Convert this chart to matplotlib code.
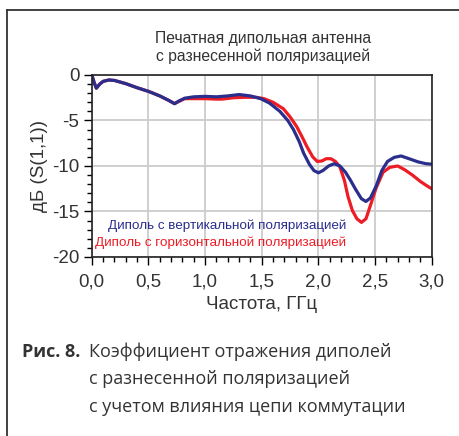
import numpy as np
import matplotlib.pyplot as plt
from matplotlib.lines import Line2D
from matplotlib.ticker import MultipleLocator, FuncFormatter

# частота, ГГц
f_v = [0.00, 0.02, 0.04, 0.07, 0.10, 0.15, 0.20, 0.30, 0.40, 0.50, 0.60, 0.68, 0.73,
       0.77, 0.82, 0.90, 1.00, 1.10, 1.20, 1.30, 1.40, 1.49, 1.57, 1.66, 1.73, 1.78,
       1.83, 1.87, 1.92, 1.96, 2.00, 2.04, 2.09, 2.14, 2.19, 2.24, 2.28, 2.33, 2.38,
       2.42, 2.46, 2.51, 2.56, 2.61, 2.67, 2.73, 2.80, 2.88, 2.95, 3.00]
# вертикальная поляризация, дБ
s_v = [0.0, -0.8, -1.45, -1.0, -0.7, -0.55, -0.6, -0.95, -1.4, -1.8, -2.3, -2.8, -3.15,
       -2.85, -2.55, -2.4, -2.35, -2.4, -2.3, -2.15, -2.3, -2.6, -3.1, -4.0, -5.0, -6.0,
       -7.3, -8.6, -9.8, -10.5, -10.75, -10.5, -10.0, -9.75, -10.0, -10.7, -11.5, -12.6, -13.6,
       -13.9, -13.5, -12.2, -10.5, -9.5, -9.05, -8.9, -9.2, -9.55, -9.75, -9.8]

f_h = [0.00, 0.02, 0.04, 0.07, 0.10, 0.15, 0.20, 0.30, 0.40, 0.50, 0.60, 0.68, 0.73,
       0.77, 0.82, 0.90, 1.00, 1.10, 1.15, 1.25, 1.35, 1.45, 1.52, 1.60, 1.69, 1.75,
       1.81, 1.86, 1.90, 1.95, 1.99, 2.03, 2.07, 2.11, 2.15, 2.19, 2.23, 2.26, 2.30,
       2.34, 2.38, 2.42, 2.46, 2.51, 2.57, 2.63, 2.70, 2.76, 2.83, 2.90, 2.96, 3.00]
# горизонтальная поляризация, дБ
s_h = [0.0, -0.8, -1.45, -1.0, -0.7, -0.55, -0.6, -0.95, -1.4, -1.8, -2.3, -2.8, -3.15,
       -2.9, -2.6, -2.6, -2.6, -2.65, -2.65, -2.5, -2.45, -2.45, -2.6, -3.0, -3.7, -4.6,
       -5.7, -6.9, -7.9, -9.0, -9.5, -9.45, -9.2, -9.2, -9.5, -10.1, -11.6, -13.3, -14.9,
       -15.8, -16.2, -15.8, -14.3, -12.4, -10.7, -10.15, -10.0, -10.4, -11.0, -11.7, -12.2, -12.5]

x_ticks = [0.0, 0.5, 1.0, 1.5, 2.0, 2.5, 3.0]
y_ticks = [0, -5, -10, -15, -20]

blue = '#2a2e8c'
red = '#ee1c25'
txt = '#333333'

plt.rcParams['font.family'] = ['Liberation Sans', 'DejaVu Sans']

fig = plt.figure(figsize=(4.59, 4.36), dpi=100)
ax = fig.add_axes([0.2, 0.4106, 0.7405, 0.4174])

ax.plot(f_h, s_h, color=red, lw=2.3, solid_capstyle='round', solid_joinstyle='round')
ax.plot(f_v, s_v, color=blue, lw=2.3, solid_capstyle='round', solid_joinstyle='round')

ax.set_xlim(0, 3.0)
ax.set_ylim(-20, 0)
ax.set_xticks(x_ticks)
ax.set_yticks(y_ticks)
ax.xaxis.set_minor_locator(MultipleLocator(0.1))
ax.yaxis.set_minor_locator(MultipleLocator(1))
ax.xaxis.set_major_formatter(FuncFormatter(lambda v, p: f'{v:.1f}'.replace('.', ',')))
ax.yaxis.set_major_formatter(FuncFormatter(lambda v, p: f'{v:.0f}'))
ax.grid(True, which='major', color='#cccccc', lw=1.3)
ax.set_axisbelow(True)
ax.tick_params(which='major', direction='out', length=6, width=1, labelsize=13.5,
               labelcolor=txt)
ax.tick_params(axis='x', which='major', pad=6)
ax.tick_params(axis='y', which='major', pad=3)
ax.tick_params(which='minor', direction='out', length=3.5, width=1)
for sp in ax.spines.values():
    sp.set_linewidth(1.2)
    sp.set_color('#222222')

ax.set_xlabel('Частота, ГГц', fontsize=13.5, color=txt, labelpad=4)
ax.set_ylabel('дБ (S(1,1))', fontsize=13.5, color=txt, labelpad=3)

ax.text(2.245, -16.6, 'Диполь с вертикальной поляризацией', color=blue,
        fontsize=9.7, ha='right', va='center')
ax.text(2.245, -18.45, 'Диполь с горизонтальной поляризацией', color=red,
        fontsize=9.7, ha='right', va='center')

fig.text(0.573, 0.891, 'Печатная дипольная антенна\nс разнесенной поляризацией',
         ha='center', va='center', fontsize=11.3, color=txt, linespacing=1.2)

# рамка
fig.add_artist(Line2D([0.016, 0.016], [0.0, 0.977], color='#333333', lw=1.3))
fig.add_artist(Line2D([0.016, 1.0], [0.977, 0.977], color='#333333', lw=1.3))

# подпись
cap = ['Open Sans', 'DejaVu Sans']
fig.text(0.048, 1 - 352 / 436, 'Рис. 8.', fontsize=13, fontweight='bold',
         family=cap, color=txt, va='center')
fig.text(0.194, 1 - 352 / 436, 'Коэффициент отражения диполей', fontsize=13,
         family=cap, color=txt, va='center')
fig.text(0.194, 1 - 379 / 436, 'с разнесенной поляризацией', fontsize=13,
         family=cap, color=txt, va='center')
fig.text(0.194, 1 - 407 / 436, 'с учетом влияния цепи коммутации', fontsize=13,
         family=cap, color=txt, va='center')

fig.savefig('out.png', dpi=100)
